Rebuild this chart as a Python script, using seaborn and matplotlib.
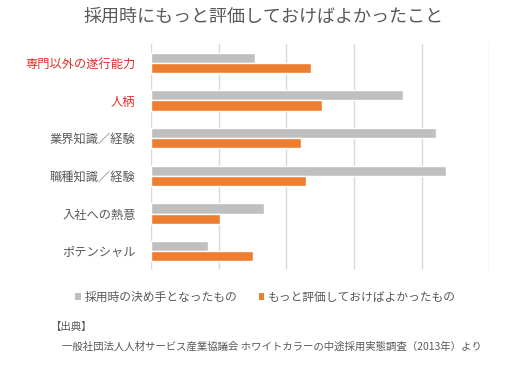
import matplotlib
matplotlib.use("Agg")
import matplotlib.pyplot as plt
import seaborn as sns
import pandas as pd
from matplotlib.patches import Patch

categories = ["専門以外の遂行能力", "人柄", "業界知識／経験", "職種知識／経験", "入社への熱意", "ポテンシャル"]
series_names = ["採用時の決め手となったもの", "もっと評価しておけばよかったもの"]
decisive = [15.4, 37.2, 42.1, 43.6, 16.7, 8.4]
should_value = [23.6, 25.3, 22.2, 22.9, 10.2, 15.1]
red_labels = ["専門以外の遂行能力", "人柄"]

title = "採用時にもっと評価しておけばよかったこと"
source_head = "【出典】"
source_body = "一般社団法人人材サービス産業協議会 ホワイトカラーの中途採用実態調査（2013年）より"

df = pd.DataFrame({
    "category": categories * 2,
    "value": decisive + should_value,
    "series": [series_names[0]] * len(categories) + [series_names[1]] * len(categories),
})

sns.set_theme(style="white")
plt.rcParams["font.family"] = ["Noto Sans CJK JP", "DejaVu Sans"]

gray = "#bfbfbf"
orange = "#ed7d31"
text_col = "#595959"
red = "#e0302a"

fig = plt.figure(figsize=(5.08, 3.66), dpi=100)
ax = fig.add_axes([0.297, 0.262, 0.666, 0.618])
sns.barplot(data=df, y="category", x="value", hue="series", orient="h",
            palette=[gray, orange], width=0.54, ax=ax, legend=False,
            saturation=1, order=categories, hue_order=series_names)

ax.set_xlim(0, 50)
ax.set_ylim(5.5, -0.5)
ax.set_xticks([0, 10, 20, 30, 40, 50])
ax.set_xticklabels([])
ax.grid(axis="x", color="#d9d9d9", linewidth=1)
ax.set_axisbelow(True)
for s in ax.spines.values():
    s.set_visible(False)
ax.set_xlabel("")
ax.set_ylabel("")
ax.tick_params(axis="both", length=0)
ax.tick_params(axis="y", pad=11, labelsize=8.8)
for lbl in ax.get_yticklabels():
    lbl.set_color(red if lbl.get_text() in red_labels else text_col)

fig.text(0.518, 0.953, title, ha="center", va="center", fontsize=13, color=text_col)

handles = [Patch(facecolor=gray, edgecolor="none"), Patch(facecolor=orange, edgecolor="none")]
fig.legend(handles, series_names, loc="center", bbox_to_anchor=(0.523, 0.188), ncol=2,
           frameon=False, fontsize=8.5, labelcolor=text_col, handlelength=0.45,
           handleheight=0.45, handletextpad=0.35, columnspacing=1.8)

fig.text(0.098, 0.107, source_head, ha="left", va="center", fontsize=7.5, color=text_col)
fig.text(0.122, 0.052, source_body, ha="left", va="center", fontsize=7.5, color=text_col)

fig.savefig("out.png", dpi=100, facecolor="white")
